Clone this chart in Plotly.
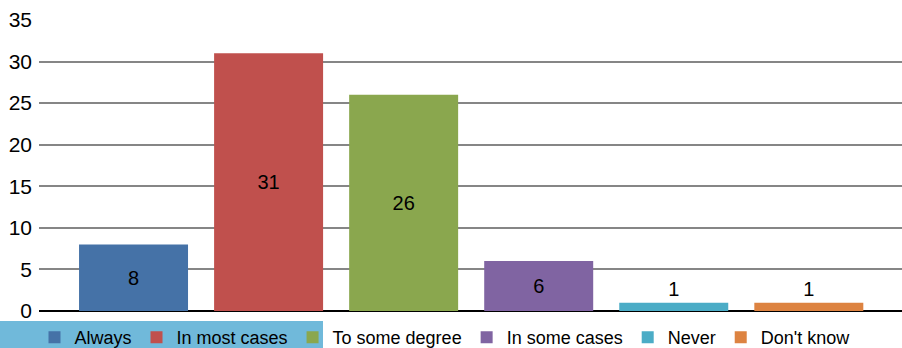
import plotly.graph_objects as go

categories = ["Always", "In most cases", "To some degree", "In some cases", "Never", "Don't know"]
values = [8, 31, 26, 6, 1, 1]
colors = ["#4572a7", "#c0504d", "#8aa74e", "#8064a2", "#4bacc6", "#dd8341"]
y_ticks = [0, 5, 10, 15, 20, 25, 30, 35]

W, H = 902, 348
ML, MR, MT, MB = 39, 0, 20, 37
pw = W - ML - MR
ph = H - MT - MB
FONT = "Liberation Sans, Arial, sans-serif"

fig = go.Figure()
for cat, val, col in zip(categories, values, colors):
    fig.add_trace(go.Bar(
        x=[cat], y=[val], name=cat,
        marker=dict(color=col, line=dict(width=0)),
        text=[str(val)],
        textposition="inside" if val >= 5 else "outside",
        insidetextanchor="middle",
        textfont=dict(family=FONT, size=20, color="#000000"),
        outsidetextfont=dict(family=FONT, size=20, color="#000000"),
        cliponaxis=False,
    ))

def px_x(p):
    return (p - ML) / pw

def px_y(p):
    return (H - MB - p) / ph

fig.update_layout(
    width=W, height=H,
    margin=dict(l=ML, r=MR, t=MT, b=MB, pad=0, autoexpand=False),
    paper_bgcolor="white", plot_bgcolor="white",
    barmode="overlay", bargap=0.193,
    font=dict(family=FONT, size=18, color="#000000"),
    xaxis=dict(showticklabels=False, showgrid=False, zeroline=False, showline=False,
               range=[-0.7, 5.69], categoryorder="array", categoryarray=categories, fixedrange=True),
    yaxis=dict(range=[0, 35], tickvals=y_ticks, ticktext=[str(v) for v in y_ticks],
               showgrid=True, gridcolor="#868686", gridwidth=1.5,
               zeroline=True, zerolinecolor="#000000", zerolinewidth=2,
               showline=False, ticks="", ticklabelstandoff=6,
               tickfont=dict(family=FONT, size=21, color="#000000")),
    showlegend=True,
    legend=dict(orientation="h", xref="container", yref="container",
                x=34.5 / W, xanchor="left", y=1 - 319 / H, yanchor="top",
                bgcolor="rgba(0,0,0,0)", font=dict(family=FONT, size=18, color="#000000"),
                itemwidth=30, tracegroupgap=0),
    shapes=[dict(type="rect", xref="paper", yref="paper",
                 x0=px_x(0), x1=px_x(323), y0=px_y(348), y1=px_y(321),
                 fillcolor="#70b9da", line=dict(width=0), layer="below")],
)

fig.write_html("out.html")
